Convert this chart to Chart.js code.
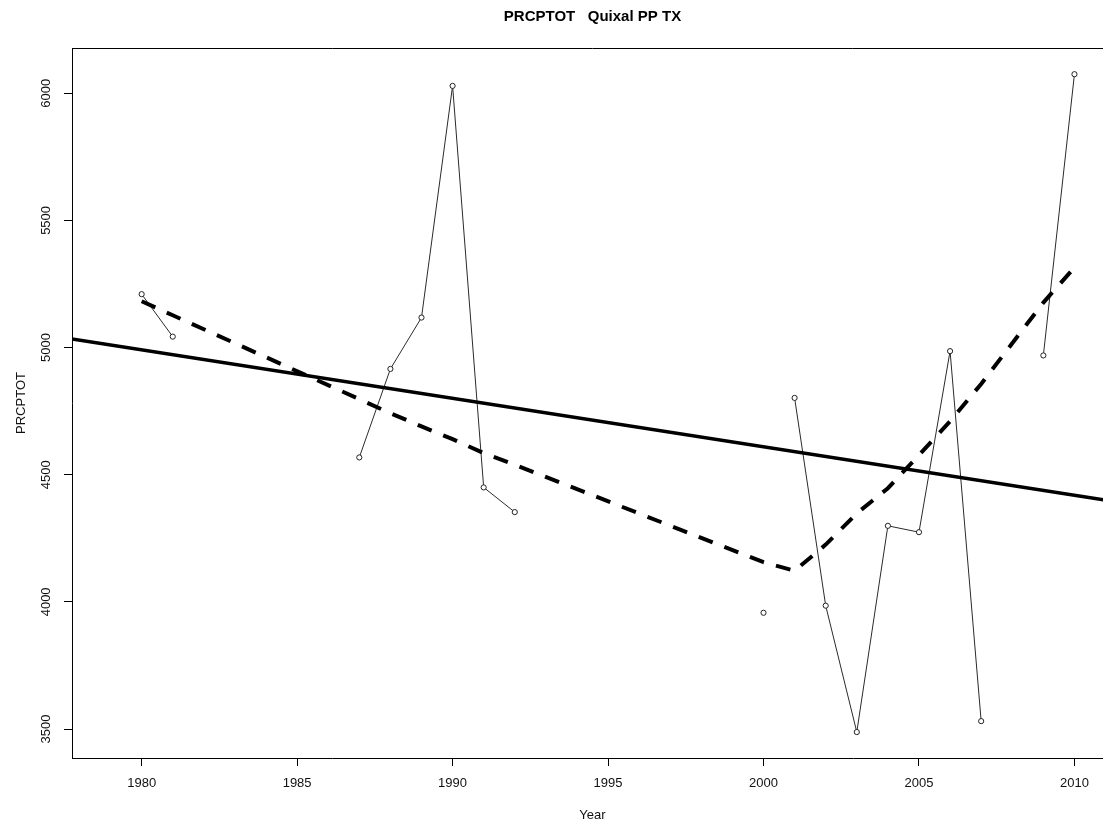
<!DOCTYPE html>
<html>
<head>
<meta charset="utf-8">
<title>PRCPTOT Quixal PP TX</title>
<script src="https://cdn.jsdelivr.net/npm/chart.js@4.4.1/dist/chart.umd.min.js"></script>
<style>
  html, body { margin: 0; padding: 0; background: #fff; overflow: hidden; }
  canvas { display: block; }
</style>
</head>
<body>
<canvas id="chart" width="1113" height="827"></canvas>
<script>
const TITLE = 'PRCPTOT   Quixal PP TX';

const years = [
  1980, 1981, 1982, 1983, 1984, 1985, 1986, 1987, 1988, 1989, 1990,
  1991, 1992, 1993, 1994, 1995, 1996, 1997, 1998, 1999, 2000,
  2001, 2002, 2003, 2004, 2005, 2006, 2007, 2008, 2009, 2010,
];

// annual total precipitation, null = missing year
const prcptot = [
  5210, 5043, null, null, null, null, null, 4568, 4916, 5118, 6029,
  4450, 4353, null, null, null, null, null, null, null, 3957,
  4802, 3985, 3488, 4299, 4274, 4986, 3531, null, 4969, 6075,
];

// lowess smooth, evaluated at the observed years
const lowess = [
  5182, 5127, null, null, null, null, null, 4797, 4742, 4690, 4640,
  4585, 4539, null, null, null, null, null, null, null, 4156,
  4122, 4225, 4348, 4447, 4577, 4710, 4857, null, 5177, 5315,
];

// years whose value is not joined to the following one
const noJoin = [2000];

// least-squares trend, taken at the ends of the year axis
const trendYears  = [1977.76, 2011.24];
const trendValues = [5034, 4396];

const xTicks = [1980, 1985, 1990, 1995, 2000, 2005, 2010];
const yTicks = [3500, 4000, 4500, 5000, 5500, 6000];

const FONT = '"Liberation Sans", Arial, sans-serif';
const INK  = '#111';

const pairs = (xs, ys) => xs.map((x, i) => ({ x, y: ys[i] }));

const framePlugin = {
  id: 'frame',
  afterDraw(chart) {
    const { ctx, chartArea: a } = chart;
    ctx.save();
    ctx.strokeStyle = '#000';
    ctx.lineWidth   = 1;
    ctx.beginPath();
    ctx.moveTo(a.left, a.top + 0.5);
    ctx.lineTo(a.right, a.top + 0.5);
    ctx.moveTo(a.right - 0.5, a.top);
    ctx.lineTo(a.right - 0.5, a.bottom);
    ctx.stroke();

    ctx.font         = 'bold 15px ' + FONT;
    ctx.fillStyle    = '#000';
    ctx.textAlign    = 'center';
    ctx.textBaseline = 'middle';
    ctx.fillText(TITLE, (a.left + a.right) / 2, 17);
    ctx.restore();
  },
};

const ctx = document.getElementById('chart').getContext('2d');

new Chart(ctx, {
  type: 'line',
  data: {
    datasets: [
      {
        label:       'lowess',
        data:        pairs(years, lowess),
        borderColor: '#000',
        borderWidth: 4,
        borderDash:  [15, 12.5],
        pointRadius: 0,
        spanGaps:    true,
        tension:     0,
        order:       1,
      },
      {
        label:       'trend',
        data:        pairs(trendYears, trendValues),
        borderColor: '#000',
        borderWidth: 3.5,
        pointRadius: 0,
        order:       2,
      },
      {
        label:                'PRCPTOT',
        data:                 pairs(years, prcptot),
        borderColor:          '#2a2a2a',
        borderWidth:          1,
        pointRadius:          2.6,
        pointBorderWidth:     1,
        pointBorderColor:     '#222',
        pointBackgroundColor: '#fff',
        spanGaps:             false,
        tension:              0,
        order:                3,
        segment: {
          borderColor: c => noJoin.includes(c.p0.parsed.x) ? 'rgba(0,0,0,0)' : '#2a2a2a',
        },
      },
    ],
  },
  options: {
    animation:  false,
    responsive: false,
    layout: {
      autoPadding: false,
      padding: { top: 48, left: 0, right: 0, bottom: 0 },
    },
    plugins: {
      legend:  { display: false },
      tooltip: { enabled: false },
      title:   { display: false },
    },
    scales: {
      x: {
        type: 'linear',
        min:  1977.76,
        max:  2011.24,
        afterBuildTicks: s => { s.ticks = xTicks.map(v => ({ value: v })); },
        afterFit:        s => { s.height = 69; s.paddingLeft = 0; s.paddingRight = 0; },
        ticks: {
          autoSkip:    false,
          maxRotation: 0,
          padding:     10,
          color:       INK,
          font:        { family: FONT, size: 13 },
          callback:    v => String(v),
        },
        grid:   { drawOnChartArea: false, tickLength: 8, color: '#000' },
        border: { display: true, color: '#000', width: 1 },
        title: {
          display: true,
          text:    'Year',
          color:   INK,
          font:    { family: FONT, size: 13 },
          padding: { top: 0, bottom: 4 },
        },
      },
      y: {
        min: 3386,
        max: 6178,
        afterBuildTicks: s => { s.ticks = yTicks.map(v => ({ value: v })); },
        afterFit:        s => { s.width = 72; },
        ticks: {
          autoSkip:    false,
          minRotation: 90,
          maxRotation: 90,
          crossAlign:  'center',
          padding:     3,
          color:       INK,
          font:        { family: FONT, size: 13 },
          callback:    v => String(v),
        },
        grid:   { drawOnChartArea: false, tickLength: 8, color: '#000' },
        border: { display: true, color: '#000', width: 1 },
        title: {
          display: true,
          text:    'PRCPTOT',
          color:   INK,
          font:    { family: FONT, size: 13 },
          padding: { top: 14, bottom: 0 },
        },
      },
    },
  },
  plugins: [framePlugin],
});
</script>
</body>
</html>
